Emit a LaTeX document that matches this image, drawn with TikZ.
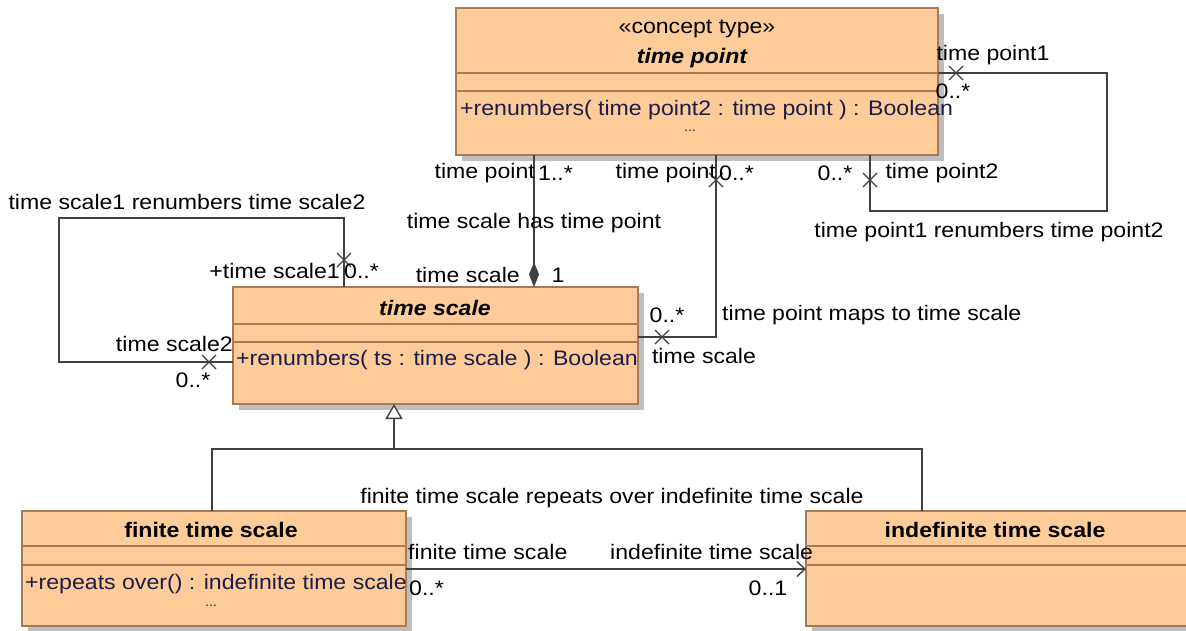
\documentclass[tikz,border=0pt]{standalone}
\usepackage{fontspec}
\setmainfont{Liberation Sans}[FakeStretch=1.1]
\usetikzlibrary{arrows.meta,positioning,shadows}
\definecolor{peach}{RGB}{254,204,153}
\definecolor{umber}{RGB}{168,122,88}
\definecolor{slate}{RGB}{64,64,64}
\definecolor{midnight}{RGB}{28,28,72}
\definecolor{shade}{RGB}{190,190,190}
\newcommand\umlfont{\fontsize{21}{25}\selectfont}
\tikzset{
  klass/.style={draw=umber,fill=peach,line width=1.5pt,anchor=north west,
    inner sep=0pt,outer sep=0pt,
    drop shadow={shadow xshift=6pt,shadow yshift=-6pt,opacity=1,fill=shade}},
  divider/.style={draw=umber,line width=1.5pt},
  kname/.style={font=\umlfont\bfseries,inner sep=0pt,yshift=-2pt},
  kop/.style={font=\umlfont,text=midnight,anchor=west,inner sep=0pt,yshift=-2pt},
  dots/.style={font=\fontsize{13}{15}\selectfont,text=midnight,inner sep=0pt},
  tag/.style={font=\umlfont,inner sep=0pt,yshift=-2pt},
  assoc/.style={draw=slate,line width=1.4pt},
  % non-navigable end
  pics/xmark/.style={code={
    \draw[slate,line width=1.3pt] (-7,-7) -- (7,7) (-7,7) -- (7,-7);
  }},
}

\begin{document}
\begin{tikzpicture}[x=1pt,y=-1pt]
  \useasboundingbox (0,0) rectangle (1186,630);
  % classes
  \node[klass,minimum width=482pt,minimum height=147pt] (tp) at (456,8) {};
  \draw[divider] (456,73) -- (938,73) (456,91) -- (938,91);
  \node[tag] (tpster) at (697,27) {«concept type»};
  \node[kname,font=\umlfont\bfseries\itshape] (tpname) at (692,56) {time point};
  \node[kop] (tpop) at (460,108) {+renumbers( time point2 : time point ) : Boolean};
  \node[dots] (tpdots) at (690,131) {...};

  \node[klass,minimum width=405pt,minimum height=117pt] (ts) at (233,287) {};
  \draw[divider] (233,324) -- (638,324) (233,342) -- (638,342);
  \node[kname,font=\umlfont\bfseries\itshape] (tsname) at (435,306) {time scale};
  \node[kop] (tsop) at (236,358) {+renumbers( ts : time scale ) : Boolean};

  \node[klass,minimum width=384pt,minimum height=115pt] (fts) at (22,511) {};
  \draw[divider] (22,546) -- (406,546) (22,565) -- (406,565);
  \node[kname] (ftsname) at (211,528) {finite time scale};
  \node[kop] (ftsop) at (25,582) {+repeats over() : indefinite time scale};
  \node[dots] (ftsdots) at (211,606) {...};

  \node[klass,minimum width=390pt,minimum height=115pt] (its) at (806,511) {};
  \draw[divider] (806,546) -- (1196,546) (806,565) -- (1196,565);
  \node[kname] (itsname) at (995,528) {indefinite time scale};

  % time point renumbers time point
  \draw[assoc] (tp.east |- 0,73) -| (1107,211) -| (tp.south -| 870,0);
  \pic at (956,73) {xmark};
  \pic at (870,180) {xmark};
  \node[tag] (tp1) at (993,53) {time point1};
  \node[tag] (tp1m) at (953,89) {0..*};
  \node[tag] (tp2m) at (835,171) {0..*};
  \node[tag] (tp2) at (942,171) {time point2};
  \node[tag] (tprn) at (989,230) {time point1 renumbers time point2};

  % time scale has time point
  \draw[assoc,{Diamond[length=25pt,width=10pt,fill=slate]}-] (ts.north -| 534,0) -- (tp.south -| 534,0);
  \node[tag,anchor=east] (hasend) at (535,171) {time point};
  \node[tag,anchor=west] (hasm) at (538,171) {1..*};
  \node[tag] (has) at (534,221) {time scale has time point};
  \node[tag,anchor=east] (ownend) at (520,273) {time scale};
  \node[tag] (ownm) at (558,273) {1};

  % time point maps to time scale
  \draw[assoc] (ts.east |- 0,337) -| (tp.south -| 716,0);
  \pic at (662,337) {xmark};
  \pic at (716,180) {xmark};
  \node[tag,anchor=east] (mapend) at (716,171) {time point};
  \node[tag,anchor=west] (mapm) at (719,171) {0..*};
  \node[tag] (mapsm) at (667,313) {0..*};
  \node[tag] (mapsend) at (704,354) {time scale};
  \node[tag,anchor=west] (maps) at (722,313) {time point maps to time scale};

  % time scale renumbers time scale
  \draw[assoc] (ts.north -| 344,0) |- (59,218) |- (ts.west |- 0,362);
  \pic at (344,260) {xmark};
  \pic at (209,362) {xmark};
  \node[tag] (tsrn) at (187,200) {time scale1 renumbers time scale2};
  \node[tag,anchor=east] (ts1) at (340,269) {+time scale1};
  \node[tag,anchor=west] (ts1m) at (344,269) {0..*};
  \node[tag,anchor=east] (ts2) at (233,342) {time scale2};
  \node[tag] (ts2m) at (193,378) {0..*};

  % generalization
  \coordinate (gen) at (394,449);
  \draw[assoc] (fts.north -| 212,0) |- (gen) (its.north -| 922,0) |- (gen);
  \draw[assoc,-{Triangle[open,length=15pt,width=17pt,fill=white]}] (gen) -- (ts.south -| gen);

  % finite time scale repeats over indefinite time scale
  \draw[assoc,-{Straight Barb[length=8pt,width=15pt]}] (fts.east |- 0,569) -- (its.west |- 0,569);
  \node[tag] (rep) at (612,496) {finite time scale repeats over indefinite time scale};
  \node[tag,anchor=west] (repsrc) at (408,550) {finite time scale};
  \node[tag,anchor=west] (reptgt) at (610,550) {indefinite time scale};
  \node[tag,anchor=west] (repsm) at (409,586) {0..*};
  \node[tag] (reptm) at (768,586) {0..1};
\end{tikzpicture}
\end{document}
